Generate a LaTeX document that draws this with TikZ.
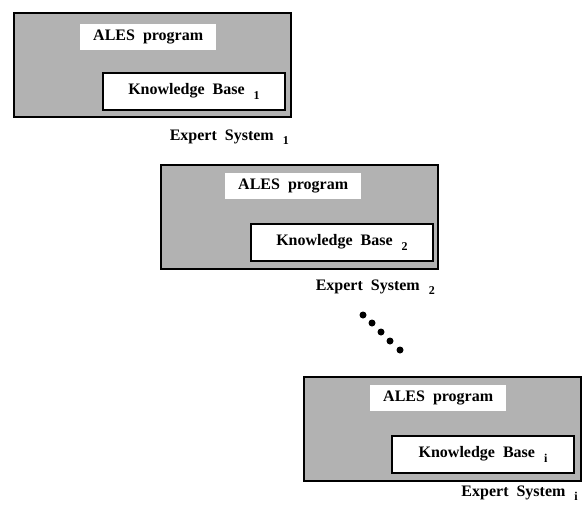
\documentclass[tikz,border=0pt]{standalone}
\usepackage{fontspec}
\setmainfont{Liberation Serif}
\newcommand\lbl{\fontsize{16}{19}\selectfont\bfseries\spaceskip=8pt plus 1pt\relax}
\newcommand\sbs[1]{\hspace{9pt}\raisebox{-0.6ex}{\fontsize{12}{12}\selectfont #1}}
\tikzset{
  outerbox/.style={draw=black, line width=2.4pt, fill=black!30, minimum width=277pt, minimum height=104pt, anchor=north west, inner sep=0pt, outer sep=0pt},
  alesbox/.style={fill=white, minimum width=136pt, minimum height=26pt, anchor=north west, font=\lbl, inner sep=0pt},
  kbbox/.style={draw=black, line width=2pt, fill=white, minimum width=182pt, minimum height=37pt, anchor=north west, font=\lbl, inner sep=0pt},
  eslabel/.style={anchor=east, font=\lbl, inner sep=0pt},
  dotnode/.style={circle, fill=black, minimum size=7pt, inner sep=0pt}
}
\begin{document}
\begin{tikzpicture}[x=1pt,y=-1pt]
\useasboundingbox (0,0) rectangle (584,504);
% system 1
\node[outerbox] (o1) at (14,13) {};
\node[alesbox] (a1) at (80,24) {ALES program};
\node[kbbox] (k1) at (102,72) {Knowledge Base\sbs{1}};
\node[eslabel] (e1) at (289,137) {Expert System\sbs{1}};
% system 2
\node[outerbox] (o2) at (161,165) {};
\node[alesbox] (a2) at (225,173) {ALES program};
\node[kbbox] (k2) at (250,223) {Knowledge Base\sbs{2}};
\node[eslabel] (e2) at (435,287) {Expert System\sbs{2}};
% dots
\node[dotnode] (d1) at (363,315) {};
\node[dotnode] (d2) at (372,323) {};
\node[dotnode] (d3) at (381,332) {};
\node[dotnode] (d4) at (390,341) {};
\node[dotnode] (d5) at (400,350) {};
% system i
\node[outerbox] (o3) at (304,377) {};
\node[alesbox] (a3) at (370,385) {ALES program};
\node[kbbox] (k3) at (391,435) {Knowledge Base\sbs{i}};
\node[eslabel] (e3) at (578,493) {Expert System\sbs{i}};
\end{tikzpicture}
\end{document}
